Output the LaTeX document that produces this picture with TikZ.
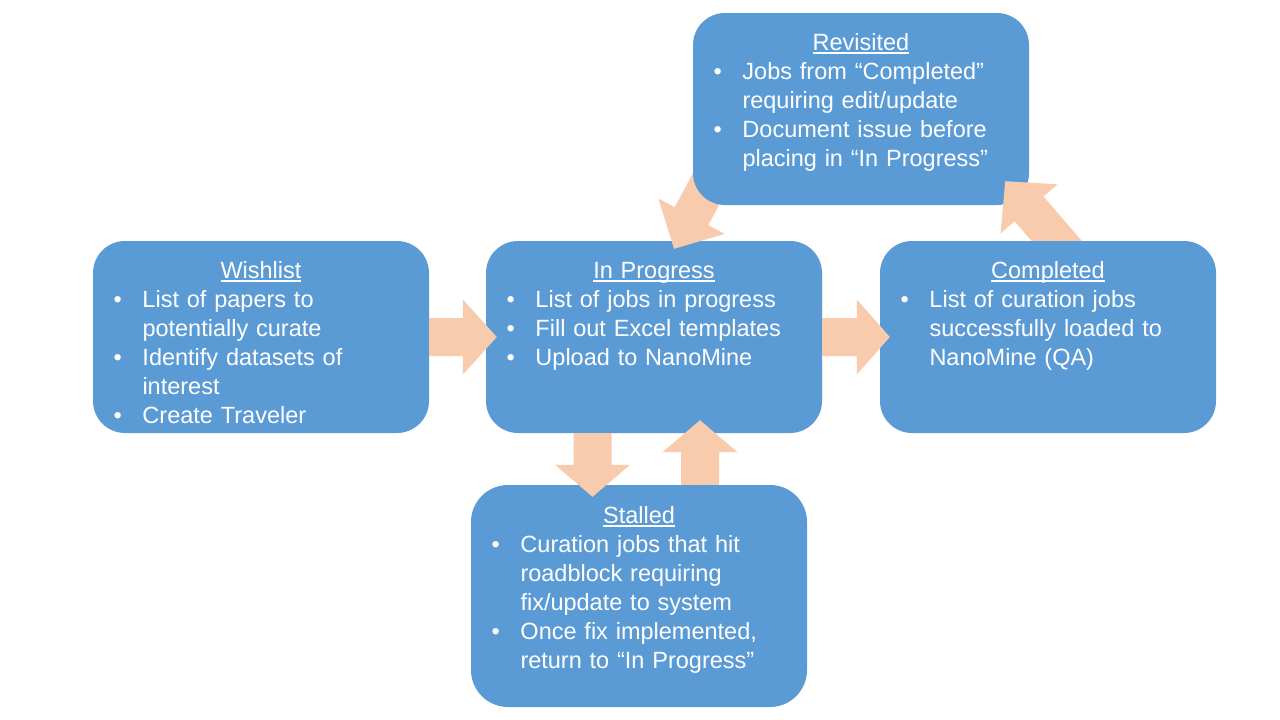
\documentclass[tikz,border=0pt]{standalone}
\usepackage{fontspec}
\setmainfont{Liberation Sans}
\usetikzlibrary{calc}
\definecolor{boxblue}{HTML}{5B9BD5}
\definecolor{arrowpeach}{HTML}{F8CBAD}
\newcommand\ulin[1]{\setbox0\hbox{#1}\rlap{\rule[-4.2pt]{\wd0}{1.8pt}}\box0}
\newcommand\hd[1]{{\centering\rule{0pt}{20pt}\ulin{#1}\par}}
\newcommand\itm[1]{{\leftskip=49.5pt\rightskip=0pt plus 1fil\noindent\llap{\makebox[29pt][l]{•}}#1\par}}
\newcommand\barrow[3]{%
  \coordinate (bb) at ($(#2)!#3!(#1)$);
  \fill[arr] ($(#1)!19pt!90:(#2)$) -- ($(bb)!19pt!90:(#2)$) -- ($(bb)!37.5pt!90:(#2)$) -- (#2)
    -- ($(bb)!37.5pt!-90:(#2)$) -- ($(bb)!19pt!-90:(#2)$) -- ($(#1)!19pt!-90:(#2)$) -- cycle;}
\begin{document}
\begin{tikzpicture}[x=1pt,y=-1pt,
  box/.style={fill=boxblue, draw=none, rounded corners=32pt, minimum width=336pt, minimum height=192pt, inner sep=0pt},
  txt/.style={text=white, text width=336pt, inner sep=0pt, anchor=north west, font=\fontsize{23.5}{29}\selectfont},
  arr/.style={fill=arrowpeach, draw=none}]
\useasboundingbox (0,0) rectangle (1280,720);
\fill[white] (0,0) rectangle (1280,720);
% boxes (lower layer)
\node[box] (wish) at (261,337) {};
\node[box] (ip) at (654,337) {};
\node[box, minimum height=222pt, rounded corners=37pt] (stall) at (639,596) {};
% Revisited -> In Progress (under Revisited box)
\coordinate (a5s) at (720,163);
\coordinate (a5t) at ($(ip.north)+(20,8)$);
\barrow{a5s}{a5t}{37pt}
\node[box] (rev) at (861,109) {};
% Completed -> Revisited (over Revisited, under Completed)
\coordinate (a6s) at (1068,254);
\coordinate (a6t) at ($(rev.south east)+(-24,-24)$);
\barrow{a6s}{a6t}{36.5pt}
\node[box] (comp) at (1048,337) {};
% remaining arrows
\coordinate (a1t) at ($(ip.west)+(11,0)$);
\barrow{wish.east}{a1t}{34pt}
\coordinate (a2t) at ($(comp.west)+(10,0)$);
\barrow{ip.east}{a2t}{33pt}
\coordinate (a3s) at ($(ip.south)+(-61.5,0)$);
\coordinate (a3t) at ($(stall.north)+(-46.5,12)$);
\barrow{a3s}{a3t}{32pt}
\coordinate (a4s) at ($(stall.north)+(61,0)$);
\coordinate (a4t) at ($(ip.south)+(46,-13)$);
\barrow{a4s}{a4t}{32pt}
% texts
\node[txt] (wish-t) at ($(wish.north west)+(0,17)$) {\parskip=0pt\parindent=0pt
  \hd{Wishlist}
  \itm{List of papers to\\potentially curate}
  \itm{Identify datasets of\\interest}
  \itm{Create Traveler}};
\node[txt] (ip-t) at ($(ip.north west)+(0,17)$) {\parskip=0pt\parindent=0pt
  \hd{In Progress}
  \itm{List of jobs in progress}
  \itm{Fill out Excel templates}
  \itm{Upload to NanoMine}};
\node[txt] (comp-t) at ($(comp.north west)+(0,17)$) {\parskip=0pt\parindent=0pt
  \hd{Completed}
  \itm{List of curation jobs\\successfully loaded to\\NanoMine (QA)}};
\node[txt] (rev-t) at ($(rev.north west)+(0,17)$) {\parskip=0pt\parindent=0pt
  \hd{Revisited}
  \itm{Jobs from “Completed”\\requiring edit/update}
  \itm{Document issue before\\placing in “In Progress”}};
\node[txt] (stall-t) at ($(stall.north west)+(0,18)$) {\parskip=0pt\parindent=0pt
  \hd{Stalled}
  \itm{Curation jobs that hit\\roadblock requiring\\fix/update to system}
  \itm{Once fix implemented,\\return to “In Progress”}};
\end{tikzpicture}
\end{document}
